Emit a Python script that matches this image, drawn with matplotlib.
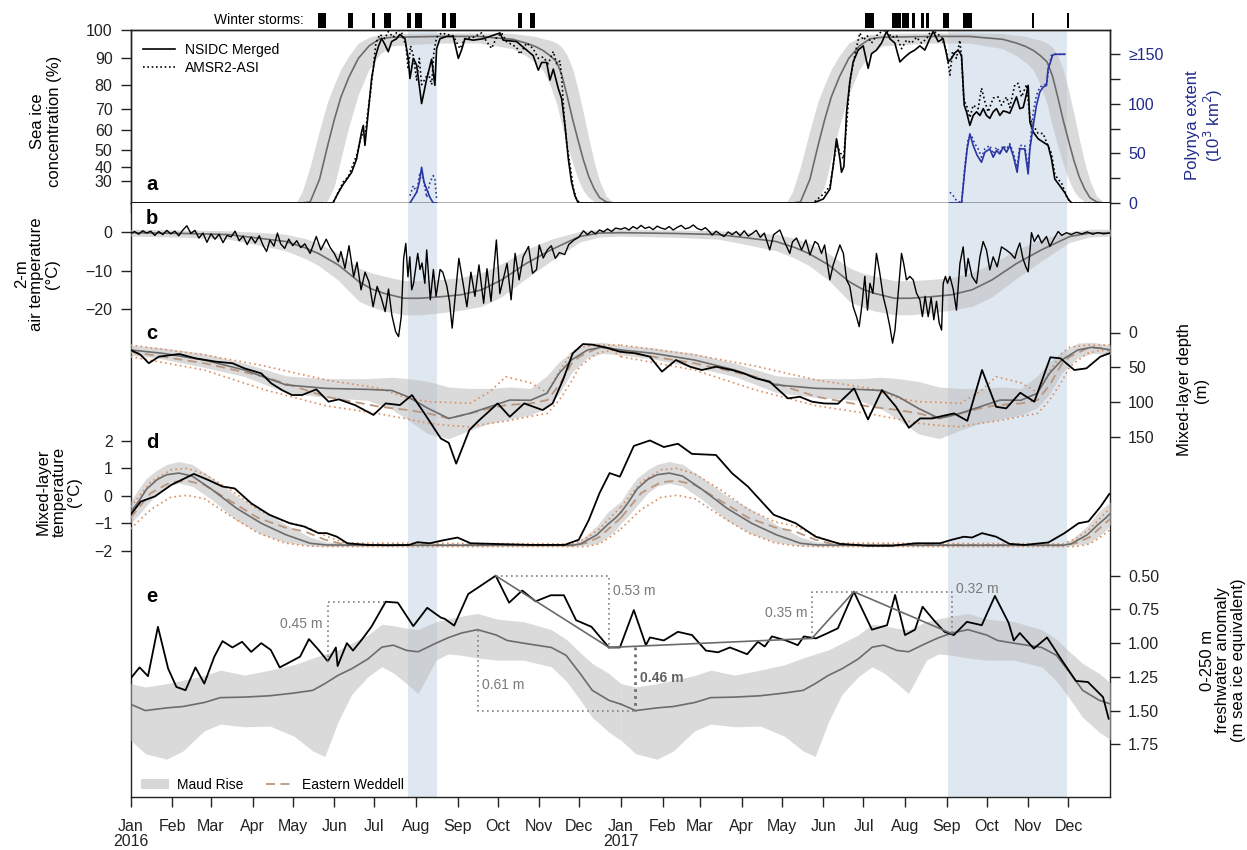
import datetime as dt
import numpy as np
import matplotlib
matplotlib.use("Agg")
import matplotlib.pyplot as plt
from matplotlib.lines import Line2D
from matplotlib.patches import Patch, Rectangle
from matplotlib.transforms import blended_transform_factory
from matplotlib.ticker import NullLocator

plt.rcParams["font.family"] = ["Liberation Sans", "DejaVu Sans"]
plt.rcParams.update({
    "axes.linewidth": 1.0,
    "axes.edgecolor": "#222222",
    "xtick.color": "#222222", "ytick.color": "#222222",
    "xtick.direction": "out", "ytick.direction": "out",
    "xtick.major.size": 7, "ytick.major.size": 7,
    "xtick.major.width": 1.0, "ytick.major.width": 1.0,
    "xtick.major.pad": 6, "ytick.major.pad": 6,
    "xtick.labelsize": 11.5, "ytick.labelsize": 11.5,
})

# ---------------------------------------------------------------- data
# time axis: days since 2016-01-01; climatologies use day of year
month_labels = ["Jan\n2016", "Feb", "Mar", "Apr", "May", "Jun", "Jul", "Aug", "Sep", "Oct", "Nov", "Dec",
                "Jan\n2017", "Feb", "Mar", "Apr", "May", "Jun", "Jul", "Aug", "Sep", "Oct", "Nov", "Dec"]
polynya_periods = [(207, 229), (610, 699)]
winter_storms = [(139.6, 146.2), (162.2, 166), (180.1, 182.4), (189.5, 194), (206.3, 209.3),
                 (212.6, 217.8), (232.1, 235.1), (238.4, 242.8), (288.8, 292.4), (297.9, 301.5),
                 (547.9, 554.5), (568.2, 574.8), (576, 580.7), (583.1, 585.4), (589.7, 592.1),
                 (593.9, 595.7), (606.3, 610.6), (621.2, 627.9), (672.7, 674.5), (698.8, 700.7)]

# (a) sea ice concentration (%), Maud Rise climatology (doy, mean, low, high)
ice_clim = [(0, 0, 0, 0), (112, 0, 0, 0), (118, 0, 0, 1), (124, 0, 0, 6), (128, 0.5, 0, 20),
            (134, 5, 0, 40), (141, 31, 0, 60), (147, 52, 8, 73), (152, 65, 25, 80), (157, 75, 45, 86),
            (163, 83, 62, 91), (170, 90, 76, 95.5), (178, 94.5, 86, 97.5), (186, 97, 91.5, 98.5),
            (195, 97.5, 94.5, 98.8), (230, 97.8, 95.5, 99), (260, 97.8, 95.5, 99), (285, 96.8, 93.5, 98.8),
            (295, 95.5, 91, 98.2), (302, 94.3, 88.5, 97.8), (308, 92.8, 85.5, 97), (313, 91, 80, 96.5),
            (318, 88.7, 72, 95.5), (322, 83.5, 62, 94), (326, 75, 52, 91), (330, 65, 42, 86),
            (334, 55, 31, 78), (338, 44, 21, 68), (342, 33, 13, 56), (346, 23, 6, 43), (350, 13, 1.5, 30),
            (355, 5, 0, 15), (360, 1, 0, 5), (366, 0, 0, 0)]
ice_nsidc = [(0, 0), (151, 0), (155, 19), (158.7, 27), (162.5, 32.7), (165, 36.2), (168.7, 44.8),
             (172.4, 59.2), (173.7, 62.4), (174.9, 52.4), (177.4, 68.6), (179.9, 82.4), (182.4, 90),
             (184.9, 94.2), (187.3, 97.1), (189.8, 95), (192.3, 92.4), (194.8, 96), (198.5, 97),
             (201, 98.5), (204.8, 97), (207.2, 90), (208.5, 82.4), (211, 90), (213.5, 87.5), (217.2, 72.2),
             (220.9, 82), (224.7, 89.7), (227.1, 79.7), (228.4, 93.5), (230.9, 97), (235.9, 97.8),
             (240.8, 97.8), (244.6, 90), (247, 93), (249.5, 97), (255.8, 96.5), (263.2, 97), (275.7, 99),
             (278.1, 96.5), (288.1, 96), (295.6, 93), (300.5, 91), (304.3, 85.6), (306.8, 88.5),
             (310.5, 88.5), (313, 81.8), (315.5, 86), (319.2, 78.5), (321.7, 74.3), (324.2, 62.4),
             (326.7, 44.8), (329.1, 28.7), (331.6, 15.5), (334.1, 0), (366, 0),
             (509.5, 0), (517, 10.9), (522, 22.8), (524.4, 40.6), (526.9, 55.8), (529.4, 44.8),
             (530.6, 36.2), (532.4, 40), (534.4, 68.6), (536.8, 81), (539.3, 88.7), (543, 93), (546.8, 94.5),
             (550.5, 86.3), (553, 91.7), (556.7, 93), (560.5, 95.5), (564.2, 99.5), (566.7, 97),
             (570.4, 95.5), (574.2, 88.7), (577.9, 90.5), (581.6, 92), (585.3, 93), (589.1, 94.5),
             (592.8, 93), (596.5, 97), (599, 99.5), (602.8, 96), (606.5, 97), (610.2, 88.7), (612.7, 90),
             (615.2, 92), (617.7, 93), (620.2, 91), (622.2, 71.5), (623.9, 68.6), (626.4, 62.4),
             (628.9, 67), (631.4, 68.6), (633.9, 67), (636.4, 70), (638.8, 67), (641.3, 65.7),
             (643.8, 68.6), (646.3, 70), (648.8, 67), (651.3, 69), (653.8, 68.6), (656.2, 68),
             (658.7, 71.5), (661.2, 75), (663.7, 70), (666.2, 70.5), (668.7, 76.3), (669.9, 79.7),
             (671.2, 64), (673.7, 59.2), (677.4, 55.8), (681.1, 54.1), (684.8, 52.4), (687.3, 44.8),
             (689.8, 31.3), (693.5, 25.8), (697.3, 19), (699.8, 11), (702.3, 0), (731, 0)]
ice_amsr2 = [(0, 0), (151, 0), (158.7, 29), (162.5, 33), (168.7, 47), (172.4, 58), (174.9, 57),
             (177.4, 70), (179.1, 77), (181.1, 86.3), (183.1, 95.5), (186.1, 98.5), (189.8, 97),
             (192.3, 99.5), (196, 97.5), (199.8, 100), (202.3, 99), (205.5, 94.5), (207.2, 86),
             (209, 94.5), (211, 91), (213.5, 81.8), (215.5, 90), (217.2, 80), (219.5, 82), (222.2, 84.5),
             (224.7, 80), (226.4, 92.5), (228.4, 97.5), (232.1, 99), (235.9, 98.5), (240.8, 98),
             (245.8, 93.5), (249.5, 97), (255.8, 97.5), (262, 99), (265.7, 96), (269.4, 93.6),
             (273.2, 97.5), (276.9, 99), (280.6, 96), (288.1, 94), (290.6, 91.5), (295.6, 95.5),
             (300.5, 93.5), (304.3, 90), (308, 90.5), (311.7, 88), (315.5, 92.5), (318, 88),
             (320.4, 89), (321.7, 83), (323.7, 65.7), (325.4, 54), (327.9, 41.5), (330.4, 24),
             (332.9, 10), (335.4, 0), (366, 0),
             (509.5, 0), (518.2, 19), (522, 25.8), (524.4, 40.6), (526.9, 53), (529.4, 49), (532, 44.8),
             (534.4, 62.4), (536.8, 81), (539.3, 88), (541.8, 94), (544.3, 99), (546.8, 96.5),
             (549.8, 98), (553, 95.5), (556.7, 98), (560.5, 99.5), (564.2, 100), (567.9, 97.5),
             (571.7, 98), (575.4, 93.5), (579.1, 96.5), (582.9, 95.5), (586.6, 97.5), (590.3, 95.5),
             (594.1, 97), (597.8, 100), (601.5, 99), (605.3, 97.5), (609, 92.5), (611.5, 83.7),
             (613.5, 92.5), (616.4, 90), (618.9, 96.5), (620.2, 90), (621.9, 73.5), (623.9, 71.5),
             (626.4, 66), (628.9, 71.5), (632.6, 70), (635.1, 78.6), (637.6, 73), (640.1, 68.6),
             (643.8, 74.5), (647.5, 75), (650, 71.5), (653.8, 75), (656.2, 70.5), (660, 80),
             (662.5, 80.5), (665, 75), (668.7, 80), (671.2, 66), (673.7, 62.4), (677.4, 58.5),
             (681.1, 58.5), (683.6, 54), (687.3, 48), (689.8, 35), (692.2, 31), (694.7, 28.5),
             (698.5, 15), (701, 4), (703.5, 0), (731, 0)]

# (a) polynya extent (10^3 km^2), capped at 150
polynya_nsidc = [(208.5, 0), (213.5, 10.8), (215.5, 20.9), (217.2, 36), (219, 21), (221, 14),
                 (223.4, 5.7), (225.9, 0), (228.4, 0), (None, None),
                 (611.5, 0), (620.2, 0), (622.7, 34), (624.4, 54.6), (626.4, 69.8), (628.9, 58),
                 (631.9, 47.9), (635.1, 41.1), (637.6, 51.2), (641.3, 54.6), (643.8, 46.2), (646.3, 52.9),
                 (648.8, 49.5), (651.3, 56.3), (653.8, 51.2), (656.2, 58), (658.7, 47.9), (661.7, 31),
                 (663.7, 54.6), (667.4, 54.6), (669.9, 29.3), (671.2, 54.6), (673.7, 78.2), (676.1, 98.4),
                 (678.6, 111.9), (681.1, 117), (683.6, 118.6), (684.8, 135.5), (686.6, 142.2),
                 (688.1, 149), (689.8, 150), (697.3, 150)]
polynya_amsr2 = [(208.5, 7.4), (211, 17.5), (213.5, 10.8), (216, 31), (218.5, 24), (221, 5.7),
                 (223.4, 21), (225.9, 27.6), (227.1, 24), (228.4, 4), (None, None),
                 (611.5, 10.8), (614, 7.4), (616.4, 2.4), (620.2, 0), (622.7, 37.7), (625.1, 64.7),
                 (627.6, 68), (630.1, 59.7), (632.6, 54.6), (635.1, 46.2), (637.6, 54.6), (641.3, 58),
                 (643.8, 49.5), (646.3, 56.3), (648.8, 51.2), (651.3, 58), (653.8, 54.6), (656.2, 59.7),
                 (658.7, 51.2), (661.7, 36), (663.7, 58), (667.4, 58), (669.9, 34), (671.2, 58),
                 (673.7, 91.7), (676.1, 108.5), (678.6, 117), (681.1, 118.6), (683.6, 120.3),
                 (685.6, 138.9), (687.3, 149), (689.8, 150), (697.3, 150)]

# (b) 2-m air temperature (deg C)
air_clim = [(0, -0.1, -1, 0.8), (40, -0.3, -1.3, 0.6), (73, -0.6, -1.8, 0.4), (95, -1.5, -3.3, 0),
            (115.7, -2.4, -4.8, -0.5), (130, -4.0, -6.8, -1.6), (140, -5.5, -8.6, -2.8),
            (155, -8.5, -12.5, -5.5), (170.5, -12.9, -18, -9.3), (180, -14.8, -19.5, -10.6),
            (189, -15.9, -20.5, -11.4), (204, -17.2, -21.5, -12.6), (216, -17.2, -21.5, -12.6),
            (231.5, -16.8, -21, -12.3), (246.6, -16.3, -20.3, -11.8), (262, -15, -19.3, -10.5),
            (277, -12.4, -16.8, -8.2), (295.4, -8.1, -12, -4.5), (313.7, -4.6, -7.5, -1.8),
            (335, -1.1, -2.6, 0.2), (350, -0.2, -1.2, 0.8), (366, -0.1, -1, 0.8)]
air_temp = [(0, -0.3), (3, 0.2), (6, -0.5), (9, 0.4), (12, -0.2), (15, 0.3), (18, -0.8), (21, 0.2),
            (24, -0.6), (27, 0.5), (30, -0.4), (33, 0.3), (36, -0.9), (39, 0.6), (42, 1.7), (45, -0.3),
            (48, 0.5), (51, -1.5), (54, -0.2), (57, -2.6), (60, -0.4), (63, -1.8), (66, -0.5), (69, -2.7),
            (72, -0.8), (75, -1.2), (78, 0.3), (81, -2.2), (84, -1.0), (87, -3.2), (90, -1.2), (93, -2.8),
            (96, -0.9), (99, -3.5), (101.5, -5.0), (104, -2.0), (107, -3.6), (109.6, -0.2), (112, -3.0),
            (115, -4.2), (118, -1.8), (121, -3.5), (124, -2.2), (127, -4.0), (130, -3.0), (134, -5.5),
            (138.6, -1.1), (142, -4.6), (146, -1.8), (149, -4.0), (152, -5.5), (155, -7.7), (157, -5.0),
            (160, -9.4), (163, -3.5), (166.5, -11.6), (169, -7.8), (172, -15), (175, -10.4), (178, -13),
            (181, -19.4), (184, -14.1), (187, -17), (190, -20.7), (192.5, -14.8), (195, -21.6),
            (197.8, -25.9), (200, -27.2), (202, -22), (203.8, -6.8), (205.4, -2.9), (207, -11.6),
            (208.4, -6.4), (209.8, -15), (211.2, -13.3), (214.3, -5.5), (216, -9.7), (217.5, -8),
            (219.6, -13.3), (221, -4.6), (223.7, -17.6), (226, -9.7), (228, -16.7), (231, -9.7),
            (233, -10.4), (236, -14), (238, -18), (240, -25), (242.5, -16), (245, -6.8), (248, -13),
            (251, -19.4), (254, -10.4), (257, -16.7), (260, -8.5), (263.5, -18.5), (266, -9.5),
            (269, -18), (273, -2), (275.6, -16), (278, -12.4), (281, -8.1), (284, -17.6), (287, -5.5),
            (290, -12.4), (293, -6.4), (297, -3.7), (300, -10.7), (303, -9.7), (305, -3.3), (308, -6.7),
            (311, -4.6), (314, -3.5), (317, -6.8), (320, -5.3), (324, -5.8), (327, -3.2), (331, -2.0),
            (334.5, -1.3), (338, 0.4), (341, -0.6), (344, 0.3), (347, -0.4), (350, 0.6), (353, 0.1),
            (356, 0.9), (359, 0.2), (362, 1.1), (366, 0.8), (369, 1.2), (372, 0.6), (375, 1.5),
            (378, 0.9), (381, 1.8), (384, 1.0), (387, 1.4), (390, 0.7), (393, 1.6), (396, 1.1), (399, 0.8),
            (402, 1.5), (405, 0.6), (408, 1.3), (411, 1.8), (414, 0.9), (417, 1.2), (420, 1.9), (423, 1.0),
            (426, 0.6), (429, 1.2), (432, 0.2), (434, -0.7), (437, 0.3), (440, -0.5), (443, -1.1),
            (446, 0.1), (449, -0.6), (452, 0.2), (455, -0.9), (458, 0.4), (461, -1.0), (464, -0.3),
            (467, 0.5), (470, -1.3), (473, -0.2), (477, -4.6), (480, -0.6), (484.6, 0.6), (488, -2.4),
            (492, -5.5), (494, -2.5), (497, -1.5), (500.8, -4.6), (504, -2.0), (507, -5.9), (510.7, -2.4),
            (513, -3.0), (515.7, -5.5), (518, -3.3), (521.9, -12.4), (524.4, -8.5), (526.9, -5.9),
            (529.4, -3.3), (532, -5.5), (534.4, -12.4), (536.8, -14.1), (539.3, -19.4), (541.8, -22),
            (543.8, -24.6), (546, -18.5), (548, -11.5), (550, -20.3), (551.8, -13.3), (554, -15.9),
            (556.7, -5.5), (559.2, -10.7), (561.7, -16.7), (564.2, -20.3), (566.7, -24.6), (568.7, -28.9),
            (570.5, -25.5), (572.9, -15.9), (575.4, -5.5), (577, -8.1), (579.1, -12.4), (581.6, -11.5),
            (584.1, -12.4), (586.6, -15.9), (589.1, -17.6), (591, -22), (593, -16.7), (595.3, -22),
            (597.5, -17), (599.5, -22.8), (601.5, -18), (603.5, -23.6), (605.3, -25.5), (606.5, -13.3),
            (608.2, -11.5), (609.7, -13.3), (611.5, -11.5), (614, -14.9), (616.4, -20.3), (619, -8.1),
            (621.4, -3.8), (623.4, -11.5), (625.1, -6.8), (628, -11.5), (631.4, -13.3), (633.9, -6.4),
            (636.3, -2.4), (638.8, -4.6), (641.3, -9.8), (643.8, -6.4), (646.8, -9), (650, -3.8),
            (653.5, -4.6), (656.8, -5.5), (660, -6.8), (661.7, -4.6), (663.7, -2.8), (666, -6.8),
            (668.2, -9), (669.9, -10.3), (672.4, -0.1), (674.5, -2.4), (677.4, -0.7), (680, -2.8),
            (683.6, -1.1), (686.1, -3.7), (689, -1.8), (692.3, 0.2), (695, -0.8), (698.5, -0.1),
            (702, -0.6), (706, 0.0), (710, -0.4), (714, 0.1), (718, -0.5), (722, -0.1), (726, -0.4),
            (730.9, -0.2)]

# (c) mixed-layer depth (m); Maud Rise climatology (doy, mean, shallow, deep)
mld_clim = [(0, 25, 18, 32), (24, 29.8, 22, 38), (55, 39.4, 30, 50), (85, 53.7, 44, 63),
            (116, 75, 62, 86), (146, 80, 66, 93), (177, 81.4, 66, 97), (195, 83, 64, 110),
            (207, 92, 66, 125), (222, 108.6, 70, 145), (237.5, 123, 78, 152), (253, 115.8, 80, 140),
            (268, 106.3, 80, 130), (283, 96.7, 78, 124), (298.5, 97, 80, 118), (310.7, 87, 62, 108),
            (319.8, 58.5, 42, 88), (329, 39.4, 28, 58), (341, 25, 15, 36), (352, 21, 14, 30),
            (366, 25, 18, 32)]
# Eastern Weddell climatology (doy, mean, shallow, deep)
mld_ew = [(0, 27.5, 18, 34.6), (55, 44, 32, 53.7), (100, 63.3, 48, 82), (146, 92, 68, 105),
          (186, 106.3, 80, 116.5), (207, 111, 94.3, 124), (222, 115.8, 99, 130), (237.5, 123, 100, 133),
          (253, 116, 101.5, 135), (268, 108.6, 85, 130), (280, 104, 63.3, 127), (298.5, 101.5, 72, 120),
          (311, 96.7, 86, 115.8), (320, 75, 55, 96.7), (329, 45, 30, 70), (335, 34.6, 21, 49),
          (348, 22.7, 18, 29.8), (359, 22, 18, 25), (366, 27.5, 18, 34.6)]
mld_obs = [(0, 25), (7.5, 32), (13.6, 44), (21, 34.6), (36.3, 30.8), (48.5, 37), (63.8, 41.8), (76, 44),
           (85, 51.3), (97.5, 58.5), (105, 72.8), (113, 82.4), (120.5, 89.5), (128, 89.5), (138.6, 81.4),
           (147.8, 99), (155.4, 95.7), (167.5, 103.9), (181.3, 118), (190.4, 101.5), (201, 103.9),
           (210, 89.5), (219.3, 115.8), (231.5, 151.6), (237.5, 158), (243, 187.7), (252.8, 139.7),
           (260.3, 125.4), (274, 101.5), (283, 120.6), (293.8, 101.5), (307.5, 111), (315, 101.5),
           (322.7, 68), (330, 29.8), (337.7, 16.5), (345, 17.5), (354.4, 21.3), (365.2, 27.5),
           (377.2, 29.8), (387.6, 34.6), (396.6, 56), (407, 39.4), (417.5, 49), (426.4, 53.7),
           (436.9, 49), (448.8, 53.7), (457.7, 58.5), (466.7, 65.6), (477, 70.4), (490.6, 94.3),
           (499.6, 92), (508.5, 99), (517.5, 101.5), (528, 102), (540, 80), (550.4, 124.4),
           (560.8, 82.4), (571.3, 106.3), (580.9, 136.4), (589.3, 123), (598.2, 123), (605.7, 119.6),
           (614.6, 115.8), (624.5, 126.4), (635.5, 53.7), (646, 106.3), (653.5, 108.6), (664, 86.2),
           (674.5, 99), (686.5, 35.5), (694, 37), (704.4, 53.7), (713.4, 51.3), (723.8, 34.6),
           (730.5, 29.8)]

# (d) mixed-layer temperature (deg C); climatologies (doy, mean, low, high)
mlt_clim = [(0, -0.6, -1.0, -0.2), (6, -0.2, -0.7, 0.25), (12, 0.25, -0.35, 0.65), (20, 0.6, 0.1, 0.95),
            (27, 0.77, 0.35, 1.15), (36, 0.83, 0.46, 1.25), (46, 0.72, 0.35, 1.15), (61, 0.22, -0.15, 0.65),
            (79, -0.45, -0.9, 0.0), (97.5, -1.0, -1.4, -0.5), (116, -1.42, -1.7, -1.05),
            (134, -1.73, -1.82, -1.5), (146, -1.79, -1.84, -1.68), (170, -1.8, -1.84, -1.75),
            (330, -1.8, -1.84, -1.74), (336, -1.75, -1.82, -1.6), (348, -1.42, -1.75, -1.1),
            (356, -1.05, -1.5, -0.6), (362, -0.8, -1.25, -0.35), (366, -0.6, -1.0, -0.2)]
mlt_ew = [(0, -0.8, -1.2, -0.4), (15, 0.1, -0.5, 0.5), (30, 0.5, -0.05, 0.95), (42, 0.55, 0.02, 1.0),
          (55, 0.4, -0.1, 0.8), (75, -0.2, -0.75, 0.2), (95, -0.8, -1.35, -0.5), (115, -1.15, -1.72, -0.95),
          (130, -1.3, -1.82, -1.1), (145, -1.6, -1.85, -1.45), (160, -1.78, -1.85, -1.72),
          (330, -1.8, -1.85, -1.75), (340, -1.72, -1.85, -1.55), (350, -1.5, -1.75, -1.2),
          (358, -1.15, -1.5, -0.8), (366, -0.8, -1.2, -0.4)]
mlt_obs = [(0, -0.69), (7.5, -0.21), (18.2, -0.02), (30.4, 0.4), (47.2, 0.8), (57.9, 0.58),
           (68.6, 0.34), (77.7, 0.27), (90, -0.27), (103.6, -0.69), (118.9, -1.0), (129.6, -1.12),
           (140.3, -1.36), (146.4, -1.36), (154, -1.49), (161.7, -1.73), (177, -1.79), (193, -1.8),
           (208, -1.79), (214, -1.69), (223.3, -1.73), (232.4, -1.63), (244, -1.52), (253.8, -1.73),
           (269, -1.75), (299.5, -1.79), (323.8, -1.79), (334.5, -1.6), (342, -0.88), (350, 0.1),
           (357.5, 0.83), (365.2, 0.7), (375.6, 1.82), (387.6, 2.02), (398, 1.78), (408.5, 1.9),
           (419, 1.53), (436.9, 1.49), (448.8, 0.83), (460.7, 0.34), (480, -0.69), (496.5, -1.0),
           (511.4, -1.49), (529.3, -1.75), (550, -1.82), (568, -1.82), (586, -1.73), (604, -1.73),
           (613, -1.6), (622, -1.49), (628, -1.52), (635.5, -1.36), (646, -1.49), (656, -1.75),
           (667, -1.79), (685, -1.7), (697, -1.36), (707.5, -1.0), (715, -0.93), (724, -0.39),
           (730.5, 0.07)]

# (e) 0-250 m freshwater anomaly (m sea ice equivalent); climatology (doy, mean, low, high)
fw_clim = [(0, 1.453, 1.3, 1.72), (11, 1.5, 1.325, 1.82), (27, 1.48, 1.3, 1.86), (39, 1.47, 1.275, 1.8),
           (55, 1.44, 1.24, 1.65), (67, 1.404, 1.2, 1.6), (85, 1.4, 1.237, 1.62), (104, 1.39, 1.2, 1.615),
           (122, 1.37, 1.16, 1.69), (136, 1.35, 1.11, 1.8), (145, 1.3, 1.08, 1.84), (155, 1.238, 1.05, 1.58),
           (165, 1.19, 1.0, 1.38), (177, 1.118, 0.94, 1.25), (187.5, 1.03, 0.86, 1.175), (196, 1.015, 0.87, 1.22),
           (206, 1.054, 0.89, 1.3), (214.6, 1.064, 0.9, 1.374), (228, 1.0, 0.84, 1.126), (237, 0.96, 0.82, 1.08),
           (247, 0.925, 0.8, 1.09), (259, 0.9, 0.78, 1.11), (273, 0.94, 0.82, 1.126), (281, 0.98, 0.83, 1.126),
           (293, 1.0, 0.84, 1.126), (314, 1.032, 0.9, 1.175), (325, 1.09, 0.97, 1.28), (335.5, 1.225, 1.07, 1.42),
           (344.6, 1.35, 1.15, 1.55), (357, 1.424, 1.225, 1.66), (366, 1.453, 1.3, 1.72)]
fw_obs = [(0, 1.262), (6.7, 1.18), (13, 1.245), (20.4, 0.879), (28, 1.188), (34.2, 1.325), (41, 1.349),
          (48.4, 1.18), (55, 1.3), (62.5, 1.1), (68.6, 0.985), (76, 1.032), (83.2, 0.99), (90, 1.065),
          (97.5, 1.0), (104.6, 1.05), (111.3, 1.18), (119, 1.14), (126.5, 1.1), (133.1, 0.97), (140.3, 1.05),
          (147.2, 1.135), (153.2, 1.032), (154.5, 1.17), (161.4, 1.0), (166, 1.055), (172.9, 0.97),
          (179.7, 0.879), (190.4, 0.693), (199.5, 0.7), (211, 0.874), (221.4, 0.738), (231.5, 0.81),
          (234.5, 0.82), (241.5, 0.87), (252, 0.636), (262, 0.57), (272.5, 0.5), (282.5, 0.7),
          (292.3, 0.61), (302.3, 0.69), (313.6, 0.645), (323.4, 0.645), (332.5, 0.83), (344, 0.879),
          (357, 1.032), (365.2, 1.032), (375.6, 0.755), (384.6, 1.015), (387.6, 0.958), (398, 0.98),
          (408.5, 0.916), (419, 0.94), (429.4, 1.055), (438.4, 1.068), (447.3, 1.032), (460.2, 1.082),
          (468.2, 0.99), (473.3, 1.025), (478.7, 0.95), (489.1, 0.98), (498, 1.015), (502.5, 0.95),
          (511.5, 0.965), (520.4, 0.925), (527.9, 0.89), (539.8, 0.619), (553.3, 0.9), (564.6, 0.867),
          (570.6, 0.643), (578, 0.94), (585.5, 0.9), (591.1, 0.73), (599.5, 0.83), (607.5, 0.916),
          (614.4, 0.94), (624.2, 0.842), (635.3, 0.867), (645.1, 0.65), (655.3, 0.849), (659.2, 0.98),
          (663.7, 0.925), (674.1, 1.04), (684, 0.958), (695, 1.126), (705.5, 1.28), (714.5, 1.288),
          (725.8, 1.4), (730, 1.56)]
# freshwater change segments: (day0, value0, day1, value1)
fw_trend = [(272.5, 0.5, 357, 1.032), (357, 1.032, 508.5, 0.965), (508.5, 0.965, 539.8, 0.619),
            (539.8, 0.619, 613, 0.93)]

# ---------------------------------------------------------------- layout helpers
W, H = 1247, 850
fig = plt.figure(figsize=(W / 100, H / 100), dpi=100)


def fx(px):
    return px / W


def fy(py):
    return 1 - py / H


X0, X1 = 130.6, 1110.0
XMAX = 731
start = dt.date(2016, 1, 1)
month_days = [(dt.date(2016 + m // 12, m % 12 + 1, 1) - start).days for m in range(24)]

C_SHADE = "#dfe7f0"
C_BAND = "#bdbdbd"
C_MEAN = "#6c6c6c"
C_EWD = "#b9967f"
C_EWO = "#d98f62"
C_POLY = "#2a36a4"
C_AXBLUE = "#1f2a8a"


def cols(rows):
    return [np.array([np.nan if v is None else v for v in c], dtype=float) for c in zip(*rows)]


def clim_years(rows):
    cs = cols(rows)
    out = []
    for off in (0, 366):
        out.append([cs[0] + off] + cs[1:])
    return out


# ---------------------------------------------------------------- panel a
axa = fig.add_axes([fx(X0), fy(203), fx(X1) - fx(X0), fy(30) - fy(203)])
axa.set_xlim(0, XMAX)
axa.set_yscale("function", functions=(lambda c: np.sign(c) * np.abs(c) ** 1.7,
                                      lambda v: np.sign(v) * np.abs(v) ** (1 / 1.7)))
axa.set_ylim(0, 100)
axa.set_yticks([30, 40, 50, 60, 70, 80, 90, 100])
axa.yaxis.set_minor_locator(NullLocator())
axa.set_xticks(month_days)
axa.set_xticklabels([])
for a, b in polynya_periods:
    axa.axvspan(a, b, color=C_SHADE, lw=0, zorder=0)
for d, m, lo, hi in clim_years(ice_clim):
    axa.fill_between(d, lo, hi, color=C_BAND, alpha=0.55, lw=0, zorder=1)
    axa.plot(d, m, color=C_MEAN, lw=1.2, zorder=2)
d, v = cols(ice_amsr2)
axa.plot(d, v, color="black", lw=1.2, ls=(0, (1, 1.6)), zorder=3)
d, v = cols(ice_nsidc)
axa.plot(d, v, color="black", lw=1.2, zorder=4)

axp = axa.twinx()
axp.set_xlim(0, XMAX)
axp.set_ylim(0, 174.5)
axp.set_yticks([0, 25, 50, 75, 100, 125, 150])
axp.set_yticklabels(["0", "", "50", "", "100", "", "≥150"], color=C_AXBLUE)
d, v = cols(polynya_amsr2)
axp.plot(d, v, color=C_POLY, lw=1.2, ls=(0, (1, 1.6)))
d, v = cols(polynya_nsidc)
axp.plot(d, v, color=C_POLY, lw=1.2)

axa.legend(handles=[Line2D([], [], color="black", lw=1.2),
                    Line2D([], [], color="black", lw=1.2, ls=(0, (1, 1.6)))],
           labels=["NSIDC Merged", "AMSR2-ASI"], loc="upper left", bbox_to_anchor=(0.0, 1.0),
           frameon=False, fontsize=10, handlelength=2.3, handletextpad=0.7, labelspacing=0.3)

# winter storms
trans = blended_transform_factory(axa.transData, fig.transFigure)
for a, b in winter_storms:
    fig.patches.append(Rectangle((a, fy(28)), b - a, fy(13) - fy(28), transform=trans,
                                 color="black", lw=0))
fig.text(fx(304), fy(20.5), "Winter storms:", ha="right", va="center", fontsize=10)

# ---------------------------------------------------------------- lower frame (b-e)
rect = [fx(X0), fy(797), fx(X1) - fx(X0), fy(203) - fy(797)]
axf = fig.add_axes(rect)
axf.set_xlim(0, XMAX)
axf.set_ylim(0, 1)
axf.spines["top"].set_visible(False)
axf.set_yticks([])
axf.set_xticks(month_days)
axf.set_xticklabels(month_labels, fontsize=11.5, linespacing=1.0)
axf.tick_params(axis="x", pad=9)
for a, b in polynya_periods:
    axf.axvspan(a, b, color=C_SHADE, lw=0, zorder=0)


def panel(ylim, side):
    ax = fig.add_axes(rect)
    ax.patch.set_visible(False)
    for s in ax.spines.values():
        s.set_visible(False)
    ax.set_xlim(0, XMAX)
    ax.set_ylim(*ylim)
    ax.set_xticks([])
    if side == "right":
        ax.yaxis.tick_right()
    return ax


def px_lim(v1, y1, v2, y2):
    def val(y):
        return v1 + (y - y1) * (v2 - v1) / (y2 - y1)
    return val(797), val(203)


# (b) air temperature
axb = panel(px_lim(0, 232.3, -20, 309.0), "left")
axb.set_yticks([0, -10, -20])
for d, m, lo, hi in clim_years(air_clim):
    axb.fill_between(d, lo, hi, color=C_BAND, alpha=0.55, lw=0)
    axb.plot(d, m, color=C_MEAN, lw=1.2)
d, v = cols(air_temp)
axb.plot(d, v, color="black", lw=1.0)

# (c) mixed-layer depth
axc = panel(px_lim(0, 332.5, 150, 437.3), "right")
axc.set_yticks([0, 50, 100, 150])
for d, m, lo, hi in clim_years(mld_clim):
    axc.fill_between(d, lo, hi, color=C_BAND, alpha=0.55, lw=0)
for d, m, lo, hi in clim_years(mld_ew):
    axc.plot(d, lo, color=C_EWO, lw=1.2, ls=(0, (1, 2)))
    axc.plot(d, hi, color=C_EWO, lw=1.2, ls=(0, (1, 2)))
    axc.plot(d, m, color=C_EWD, lw=1.3, ls=(0, (5, 3)))
for d, m, lo, hi in clim_years(mld_clim):
    axc.plot(d, m, color=C_MEAN, lw=1.2)
d, v = cols(mld_obs)
axc.plot(d, v, color="black", lw=1.3)

# (d) mixed-layer temperature
axd = panel(px_lim(2, 441.0, -2, 550.7), "left")
axd.set_yticks([2, 1, 0, -1, -2])
for d, m, lo, hi in clim_years(mlt_clim):
    axd.fill_between(d, lo, hi, color=C_BAND, alpha=0.55, lw=0)
for d, m, lo, hi in clim_years(mlt_ew):
    axd.plot(d, lo, color=C_EWO, lw=1.2, ls=(0, (1, 2)))
    axd.plot(d, hi, color=C_EWO, lw=1.2, ls=(0, (1, 2)))
    axd.plot(d, m, color=C_EWD, lw=1.3, ls=(0, (5, 3)))
for d, m, lo, hi in clim_years(mlt_clim):
    axd.plot(d, m, color=C_MEAN, lw=1.2)
d, v = cols(mlt_obs)
axd.plot(d, v, color="black", lw=1.3)

# (e) freshwater anomaly
axe = panel(px_lim(0.5, 575.7, 1.75, 744.3), "right")
axe.set_yticks([0.5, 0.75, 1.0, 1.25, 1.5, 1.75])
axe.set_yticklabels(["0.50", "0.75", "1.00", "1.25", "1.50", "1.75"])
for d, m, lo, hi in clim_years(fw_clim):
    axe.fill_between(d, lo, hi, color=C_BAND, alpha=0.55, lw=0)
    axe.plot(d, m, color=C_MEAN, lw=1.2)
d, v = cols(fw_obs)
axe.plot(d, v, color="black", lw=1.3)
for d0, v0, d1, v1 in fw_trend:
    axe.plot([d0, d1], [v0, v1], color="#6a6a6a", lw=1.2)

dot = dict(color="#808080", lw=1.2, ls=(0, (1, 2)))
c_ann = "#7a7a7a"
# 0.45 m: rise to the July peak
axe.plot([147.2, 147.2, 190.4], [1.14, 0.693, 0.693], **dot)
axe.text(143, 0.86, "0.45 m", ha="right", va="center", fontsize=10, color=c_ann)
# 0.53 m: loss from the October peak to the following summer
axe.plot([272.5, 357, 357], [0.5, 0.5, 1.032], **dot)
axe.text(360, 0.61, "0.53 m", ha="left", va="center", fontsize=10, color=c_ann)
# 0.61 m: climatological seasonal loss
axe.plot([259, 259, 376.6], [0.9, 1.5, 1.5], **dot)
axe.text(262, 1.31, "0.61 m", ha="left", va="center", fontsize=10, color=c_ann)
# 0.46 m: anomaly at start of 2017
axe.plot([376.6, 376.6], [1.032, 1.5], color="#707070", lw=2.0, ls=(0, (1, 1.5)))
axe.text(380, 1.26, "0.46 m", ha="left", va="center", fontsize=10, color="#606060", fontweight="bold")
# 0.35 m and 0.32 m in 2017
axe.plot([508.5, 508.5, 613, 613], [0.965, 0.619, 0.619, 0.93], **dot)
axe.text(505, 0.78, "0.35 m", ha="right", va="center", fontsize=10, color=c_ann)
axe.text(616, 0.6, "0.32 m", ha="left", va="center", fontsize=10, color=c_ann)

axe.legend(handles=[Patch(color=C_BAND, alpha=0.6, lw=0), Line2D([], [], color=C_EWD, lw=1.3, ls=(0, (5, 3)))],
           labels=["Maud Rise", "Eastern Weddell"], loc="lower left", bbox_to_anchor=(-0.002, -0.012),
           ncol=2, frameon=False, fontsize=10, handlelength=2.0, handletextpad=0.6, columnspacing=1.6)

# ---------------------------------------------------------------- labels
for lab, y in [("a", 185), ("b", 218), ("c", 333), ("d", 442), ("e", 597)]:
    fig.text(fx(146), fy(y), lab, ha="left", va="center", fontsize=14.5, fontweight="bold")

fig.text(fx(46), fy(121), "Sea ice\nconcentration (%)", rotation=90, ha="center", va="center",
         fontsize=12, linespacing=1.1)
fig.text(fx(1205), fy(125), "Polynya extent\n(10$^3$ km$^2$)", rotation=90, ha="center", va="center",
         fontsize=12, linespacing=1.1, color=C_AXBLUE)
fig.text(fx(37), fy(274), "2-m\nair temperature\n(°C)", rotation=90, ha="center", va="center",
         fontsize=12, linespacing=1.05)
fig.text(fx(1193), fy(390), "Mixed-layer depth\n(m)", rotation=90, ha="center", va="center",
         fontsize=12, linespacing=1.1)
fig.text(fx(59), fy(492), "Mixed-layer\ntemperature\n(°C)", rotation=90, ha="center", va="center",
         fontsize=12, linespacing=1.05)
fig.text(fx(1223), fy(660), "0-250 m\nfreshwater anomaly\n(m sea ice equivalent)", rotation=90,
         ha="center", va="center", fontsize=12, linespacing=1.05)

fig.savefig("out.png", dpi=100)
